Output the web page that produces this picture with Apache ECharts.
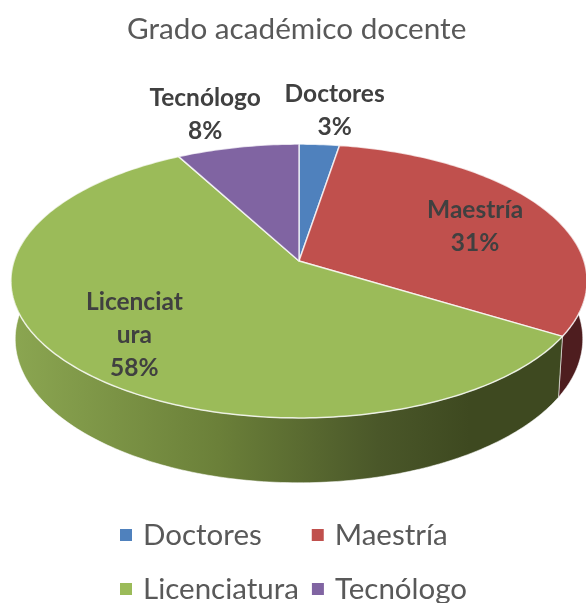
<!DOCTYPE html>
<html><head><meta charset="utf-8">
<style>html,body{margin:0;padding:0;background:#fff}#c{width:586px;height:603px}</style>
<script src="https://cdn.jsdelivr.net/npm/echarts@6/dist/echarts.min.js"></script>
</head><body><div id="c"></div>
<script>
const titleText = 'Grado académico docente';
const categories = ['Doctores', 'Maestría', 'Licenciatura', 'Tecnólogo'];
const shares = [2.6, 31.1, 58.4, 7.9];
const labelLines = [['Doctores'], ['Maestría'], ['Licenciat', 'ura'], ['Tecnólogo']];
const colors = ['#4F81BD', '#C0504D', '#9BBB59', '#8064A2'];

// tilted-disc projection of the pie
const view = {cx: 299, cy: 261, a: 285, h: 134, k: 0.146, sx: 0.985, sy: 1.05, d: 57};
const labelPlace = [{dt: 1.7, r: 1.346}, {dt: 1.8, r: 0.697}, {dt: 0, r: 0.738}, {dt: -2.6, r: 1.353}];
const sideVisible = [80, 280];

function topPoint(deg, r) {
  const t = deg * Math.PI / 180, u = r * Math.sin(t), v = r * Math.cos(t), w = 1 + view.k * v;
  return [view.cx + view.a * u / w, view.cy - view.h * v / w];
}
function bottomPoint(deg) {
  const p = topPoint(deg, 1);
  return [view.cx + (p[0] - view.cx) * view.sx, view.cy + view.d + (p[1] - view.cy) * view.sy];
}
function arc(fn, from, to) {
  const pts = [], n = Math.max(2, Math.ceil(Math.abs(to - from)));
  for (let i = 0; i <= n; i++) pts.push(fn(from + (to - from) * i / n));
  return pts;
}
const total = shares.reduce((a, b) => a + b, 0);
const starts = shares.map((_, i) => shares.slice(0, i).reduce((a, b) => a + b, 0));

function sideFill(i) {
  if (i === 1) return '#4E1D1F';
  return new echarts.graphic.LinearGradient(12, 0, 470, 0, [
    {offset: 0, color: '#8BA651'}, {offset: 0.45, color: '#6B8039'},
    {offset: 0.8, color: '#4A5729'}, {offset: 1, color: '#3E4920'}], true);
}
function renderSlice(params, api) {
  const i = params.seriesIndex;
  const from = api.value(0) / total * 360, to = api.value(1) / total * 360;
  const children = [];
  const sFrom = Math.max(from, sideVisible[0]), sTo = Math.min(to, sideVisible[1]);
  if (sTo > sFrom) {
    children.push({type: 'polygon', silent: true,
      shape: {points: arc(d => topPoint(d, 1), sFrom, sTo).concat(arc(bottomPoint, sTo, sFrom))},
      style: {fill: sideFill(i), stroke: 'rgba(255,255,255,0.55)', lineWidth: 1}});
  }
  children.push({type: 'polygon', silent: true,
    shape: {points: [[view.cx, view.cy]].concat(arc(d => topPoint(d, 1), from, to))},
    style: {fill: colors[i], stroke: 'rgba(255,255,255,0.75)', lineWidth: 1.5, lineJoin: 'round'}});
  const mid = (from + to) / 2 + labelPlace[i].dt;
  const pos = topPoint(mid, labelPlace[i].r);
  children.push({type: 'text', silent: true, z2: 50, x: pos[0], y: pos[1],
    style: {text: labelLines[i].concat(Math.round(api.value(1) - api.value(0)) + '%').join('\n'),
      font: 'bold 24.5px Lato', fill: '#404040', align: 'center', verticalAlign: 'middle', lineHeight: 33}});
  return {type: 'group', children};
}

const chart = echarts.init(document.getElementById('c'), null, {renderer: 'canvas'});
const legendText = {fontFamily: 'Lato', fontSize: 29.5, color: '#595959', padding: [0, 0, 0, 6]};
chart.setOption({
  animation: false,
  backgroundColor: '#fff',
  title: {text: titleText, left: 122, top: 9,
    textStyle: {fontFamily: 'Lato', fontSize: 29.7, fontWeight: 'normal', color: '#595959'}},
  legend: [
    {data: categories.slice(0, 2), left: 120, top: 520, itemWidth: 12, itemHeight: 12, itemGap: 50, icon: 'rect', padding: 0, textStyle: legendText, selectedMode: false},
    {data: categories.slice(2), left: 120, top: 574, itemWidth: 12, itemHeight: 12, itemGap: 13, icon: 'rect', padding: 0, textStyle: legendText, selectedMode: false}
  ],
  series: categories.map((name, i) => ({
    type: 'custom', name, coordinateSystem: 'none', silent: true,
    itemStyle: {color: colors[i]},
    renderItem: renderSlice,
    data: [[starts[i], starts[i] + shares[i]]]
  }))
});
</script></body></html>
